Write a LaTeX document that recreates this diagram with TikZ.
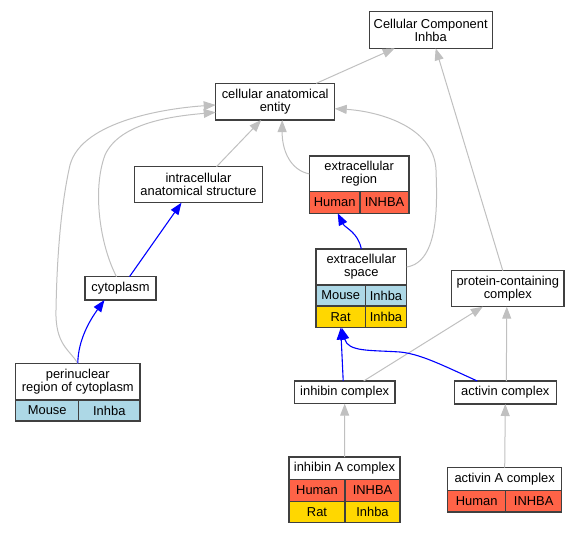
\documentclass[tikz,border=0pt]{standalone}
\usepackage{fontspec}
\setmainfont{Liberation Sans}
\usetikzlibrary{arrows.meta}
\definecolor{edgegray}{RGB}{192,192,192}
\definecolor{bordergray}{RGB}{64,64,64}
\definecolor{human}{RGB}{255,99,71}
\definecolor{mouse}{RGB}{173,216,230}
\definecolor{rat}{RGB}{255,215,0}
\begin{document}
\begin{tikzpicture}[x=1pt,y=-1pt,
  box/.style={draw=bordergray, line width=1.3pt, fill=white, inner sep=0pt, outer sep=0pt, align=center, font=\fontsize{12.9}{13}\selectfont},
  gedge/.style={color=edgegray, line width=1pt, -{Triangle[length=12pt,width=9pt]}},
  bedge/.style={color=blue, line width=1.1pt, -{Triangle[length=12pt,width=9pt]}}
]
\useasboundingbox (0,0) rectangle (580,533);

% nodes
\node[box, minimum width=123pt, minimum height=36.6pt] (cc) at (430.7,30) {Cellular Component\\Inhba};
\node[box, minimum width=119pt, minimum height=36.7pt] (cae) at (275.2,101.7) {cellular anatomical\\entity};
\node[box, minimum width=128.4pt, minimum height=36pt] (ias) at (198.5,184.7) {intracellular\\anatomical structure};

\node[box, minimum width=99.7pt, minimum height=35.7pt] (er) at (359.2,173.9) {extracellular\\region};
\node[box, fill=human, minimum width=50.7pt, minimum height=21.6pt] (er1) at (334.7,202.5) {Human};
\node[box, fill=human, minimum width=49pt, minimum height=21.6pt] (er2) at (384.5,202.5) {INHBA};

\node[box, minimum width=90.7pt, minimum height=36pt] (es) at (361.3,267) {extracellular\\space};
\node[box, fill=mouse, minimum width=49.3pt, minimum height=21pt] (esm1) at (340.7,295.5) {Mouse};
\node[box, fill=mouse, minimum width=41.4pt, minimum height=21pt] (esm2) at (386,295.5) {Inhba};
\node[box, fill=rat, minimum width=49.3pt, minimum height=21.7pt] (esr1) at (340.7,316.8) {Rat};
\node[box, fill=rat, minimum width=41.4pt, minimum height=21.7pt] (esr2) at (386,316.8) {Inhba};

\node[box, minimum width=112.3pt, minimum height=36pt] (pcc) at (507.8,288.7) {protein-containing\\complex};
\node[box, minimum width=71pt, minimum height=23.3pt] (cyt) at (120.5,288.3) {cytoplasm};

\node[box, minimum width=124.3pt, minimum height=36.7pt] (pr) at (77.8,381.7) {perinuclear\\region of cytoplasm};
\node[box, fill=mouse, minimum width=63pt, minimum height=21pt] (pr1) at (47.2,410.5) {Mouse};
\node[box, fill=mouse, minimum width=61.3pt, minimum height=21pt] (pr2) at (109.3,410.5) {Inhba};

\node[box, minimum width=100.7pt, minimum height=22.7pt] (inh) at (344.7,392.3) {inhibin complex};
\node[box, minimum width=102pt, minimum height=23pt] (act) at (505.3,392.5) {activin complex};

\node[box, minimum width=111pt, minimum height=22.3pt] (ia) at (344.5,468.2) {inhibin A complex};
\node[box, fill=human, minimum width=56pt, minimum height=22pt] (iah1) at (317,490.3) {Human};
\node[box, fill=human, minimum width=55pt, minimum height=22pt] (iah2) at (372.5,490.3) {INHBA};
\node[box, fill=rat, minimum width=56pt, minimum height=21.4pt] (iar1) at (317,512) {Rat};
\node[box, fill=rat, minimum width=55pt, minimum height=21.4pt] (iar2) at (372.5,512) {Inhba};

\node[box, minimum width=114pt, minimum height=22.6pt] (aa) at (504.7,479) {activin A complex};
\node[box, fill=human, minimum width=58pt, minimum height=21.7pt] (aah1) at (476.7,501.2) {Human};
\node[box, fill=human, minimum width=56pt, minimum height=21.7pt] (aah2) at (533.7,501.2) {INHBA};

% grey edges
\draw[gedge] ([xshift=41pt]cae.north) -- ([xshift=-36pt]cc.south);
\draw[gedge] ([xshift=-5pt]pcc.north) -- ([xshift=5pt]cc.south);
\draw[gedge] ([xshift=18pt]ias.north) -- ([xshift=-14pt]cae.south);
\draw[gedge] (er.west) .. controls (290,170) and (282,150) .. ([xshift=7pt]cae.south);
\draw[gedge] (es.east) .. controls (440,262) and (437,200) .. (436,170) .. controls (434,125) and (375,111) .. ([yshift=-7pt]cae.east);
\draw[gedge] ([xshift=-4pt]cyt.north) .. controls (100,245) and (92,190) .. (105,155) .. controls (120,122) and (175,116) .. ([yshift=-10.6pt]cae.west);
\draw[gedge] (pr.north) .. controls (70,350) and (55,345) .. (56,310) .. controls (57,250) and (62,200) .. (70,165) .. controls (82,120) and (170,108) .. ([yshift=-3.3pt]cae.west);
\draw[gedge] ([xshift=19pt]inh.north) -- ([xshift=-25pt]pcc.south);
\draw[gedge] ([xshift=1pt]act.north) -- ([xshift=-1pt]pcc.south);
\draw[gedge] (ia.north) -- (inh.south);
\draw[gedge] (aa.north) -- (act.south);

% blue edges
\draw[bedge] ([xshift=9pt]cyt.north) -- ([xshift=-17pt]ias.south);
\draw[bedge] (pr.north) .. controls (78,340) and (90,320) .. ([xshift=-16pt]cyt.south);
\draw[bedge] (es.north) .. controls (358,232) and (345,228) .. ([xshift=3pt]er1.south);
\draw[bedge] ([xshift=-1.5pt]inh.north) -- (esr1.south);
\draw[bedge] ([xshift=-28pt]act.north) .. controls (440,364) and (420,354) .. (400,352) .. controls (370,350) and (348,352) .. ([xshift=1pt]esr1.south);
\end{tikzpicture}
\end{document}
